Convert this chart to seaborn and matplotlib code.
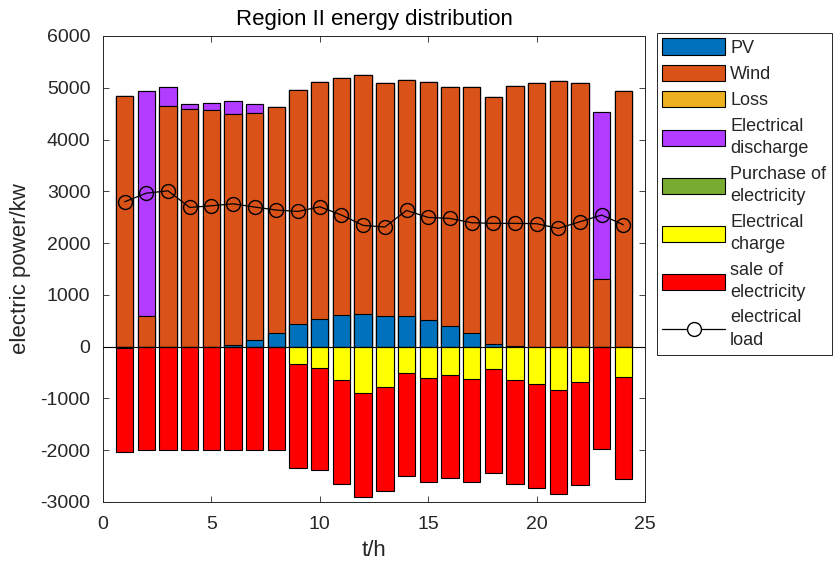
import numpy as np
import pandas as pd
import matplotlib
matplotlib.use("Agg")
import matplotlib.pyplot as plt
import seaborn as sns
from matplotlib.patches import Patch
from matplotlib.lines import Line2D

# ---------------- data ----------------
hours = list(range(1, 25))
pv = [0, 0, 0, 0, 0, 25, 134, 263, 442, 539, 616, 635,
      597, 597, 520, 398, 263, 45, 20, 0, 0, 0, 0, 0]
wind = [4839, 597, 4647, 4587, 4570, 4461, 4371, 4358, 4518, 4564, 4564, 4609,
        4487, 4544, 4583, 4608, 4743, 4781, 5006, 5084, 5122, 5090, 1315, 4929]
loss = [0] * 24
discharge = [0, 4344, 359, 98, 141, 263, 180, 0, 0, 0, 0, 0,
             0, 0, 0, 0, 0, 0, 0, 0, 0, 0, 3216, 0]
purchase = [0] * 24
charge = [-30, 0, 0, 0, 0, 0, 0, 0, -341, -405, -643, -899,
          -777, -514, -597, -540, -617, -437, -643, -713, -841, -675, 0, -578]
sale = [-2000, -1990, -1990, -1990, -1990, -1990, -1990, -1990, -2003, -1983, -2002, -1997,
        -2009, -1990, -2010, -1990, -1990, -2009, -2002, -2016, -1997, -2002, -1984, -1983]
load = [2798, 2965, 3010, 2689, 2721, 2759, 2696, 2638, 2612, 2702, 2542, 2342,
        2311, 2631, 2496, 2477, 2394, 2381, 2381, 2375, 2284, 2413, 2542, 2355]

series_names = ["PV", "Wind", "Loss", "Electrical\ndischarge", "Purchase of\nelectricity",
                "Electrical\ncharge", "sale of\nelectricity"]
load_name = "electrical\nload"
colors = ["#0072BD", "#D95319", "#EDB120", "#B23CFF", "#77AC30", "#FFFF00", "#FF0000"]

# ---------------- build cumulative stacks ----------------
df = pd.DataFrame({"t": hours, "pv": pv, "wind": wind, "loss": loss,
                   "dis": discharge, "pur": purchase, "chg": charge,
                   "sale": sale, "load": load})
df["c_pv"] = df["pv"]
df["c_wind"] = df["c_pv"] + df["wind"]
df["c_loss"] = df["c_wind"] + df["loss"]
df["c_dis"] = df["c_loss"] + df["dis"]
df["c_pur"] = df["c_dis"] + df["pur"]
df["c_chg"] = df["chg"]
df["c_sale"] = df["c_chg"] + df["sale"]

sns.set_style("ticks")
plt.rcParams["font.family"] = ["Liberation Sans", "DejaVu Sans"]
plt.rcParams["axes.unicode_minus"] = False

fig = plt.figure(figsize=(8.33, 5.65), dpi=100)
ax = fig.add_axes([103 / 833, 1 - 502 / 565, (645 - 103) / 833, (502 - 36) / 565])

# draw tallest first so each lower layer overlays it
layers = [("c_pur", 4), ("c_dis", 3), ("c_loss", 2), ("c_wind", 1), ("c_pv", 0),
          ("c_sale", 6), ("c_chg", 5)]
for col, ci in layers:
    sns.barplot(data=df, x="t", y=col, native_scale=True, color=colors[ci],
                saturation=1, width=0.8, edgecolor="black", linewidth=0.8,
                errorbar=None, ax=ax, zorder=2)

ax.axhline(0, color="black", linewidth=0.8, zorder=3)

sns.lineplot(data=df, x="t", y="load", color="black", linewidth=0.9,
             marker="o", markersize=10, markerfacecolor="none",
             markeredgecolor="black", markeredgewidth=1.0, ax=ax, zorder=4)

ax.set_xlim(0, 25)
ax.set_ylim(-3000, 6000)
ax.set_xticks(range(0, 26, 5))
ax.set_yticks(range(-3000, 6001, 1000))
ax.tick_params(direction="in", top=True, right=True, length=4, width=0.6,
               labelsize=14, colors="0.15")
ax.tick_params(axis="x", pad=10)
ax.tick_params(axis="y", pad=9)
for s in ax.spines.values():
    s.set_visible(True)
    s.set_color("0.15")
    s.set_linewidth(0.7)

ax.set_title("Region II energy distribution", fontsize=16, pad=8, color="black")
ax.set_xlabel("t/h", fontsize=16, labelpad=5)
ax.set_ylabel("electric power/kw", fontsize=16, labelpad=7)

handles = [Patch(facecolor=c, edgecolor="black", linewidth=0.8) for c in colors]
handles.append(Line2D([0], [0], color="black", linewidth=0.9, marker="o",
                      markersize=10, markerfacecolor="white", markeredgecolor="black"))
leg = fig.legend(handles, series_names + [load_name], loc="upper left",
                 bbox_to_anchor=(657 / 833, 1 - 33 / 565), frameon=True, fancybox=False,
                 edgecolor="0.15", framealpha=1, fontsize=13, handlelength=3.45,
                 handleheight=1.0, handletextpad=0.3, labelspacing=0.45,
                 borderpad=0.3, borderaxespad=0)
leg.get_frame().set_linewidth(0.7)
for t in leg.get_texts():
    t.set_linespacing(1.45)

fig.savefig("out.png", dpi=100)
